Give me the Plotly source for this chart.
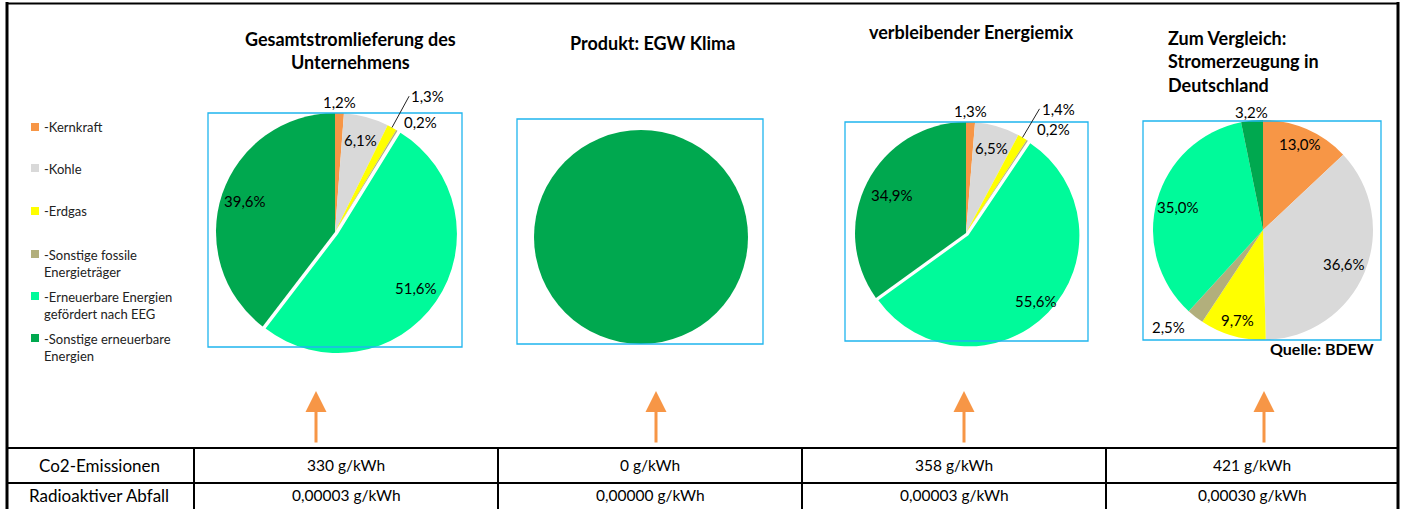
import math
import plotly.graph_objects as go

W, H = 1405, 509

# ---------------- data ----------------
categories = [
    "Kernkraft",
    "Kohle",
    "Erdgas",
    "Sonstige fossile Energieträger",
    "Erneuerbare Energien gefördert nach EEG",
    "Sonstige erneuerbare Energien",
]
legend_labels = [
    "-Kernkraft",
    "-Kohle",
    "-Erdgas",
    "-Sonstige fossile<br>Energieträger",
    "-Erneuerbare Energien<br>gefördert nach EEG",
    "-Sonstige erneuerbare<br>Energien",
]
colors = ["#F79646", "#D9D9D9", "#FFFF00", "#B2AF7C", "#00FA9A", "#00A84F"]

chart_titles = [
    "Gesamtstromlieferung des<br>Unternehmens",
    "Produkt: EGW Klima",
    "verbleibender Energiemix",
    "Zum Vergleich:<br>Stromerzeugung in<br>Deutschland",
]

gesamt = [1.2, 6.1, 1.3, 0.2, 51.6, 39.6]
egw_klima = [0, 0, 0, 0, 0, 100]
verbleibend = [1.3, 6.5, 1.4, 0.2, 55.6, 34.9]
deutschland = [13.0, 36.6, 9.7, 2.5, 35.0, 3.2]

row_labels = ["Co2-Emissionen", "Radioaktiver Abfall"]
co2 = ["330 g/kWh", "0 g/kWh", "358 g/kWh", "421 g/kWh"]
radioaktiv = ["0,00003 g/kWh", "0,00000 g/kWh", "0,00003 g/kWh", "0,00030 g/kWh"]
source_note = "Quelle: BDEW"

# ---------------- helpers (layout only) ----------------
def px(x):
    return x / W


def py(y):
    return 1 - y / H


FONT = "Lato"
BLUE = "#1FB5EE"

fig = go.Figure()
shapes = []
annotations = []

C, L, R = "center", "left", "right"
# (values, centre x, centre y, radius, pull, label radial factors, label anchors, slice with leader line, show labels)
pie_specs = [
    (gesamt, 335, 232, 119, [0, 0, 0, 0, 0.03, 0],
     [1.09, 0.8, 1.3, 1.08, 0.8, 0.8], [C, C, L, L, C, C], 2, True),
    (egw_klima, 641, 237, 107, [0] * 6, [0] * 6, [C] * 6, None, False),
    (verbleibend, 966, 233, 111, [0, 0, 0, 0, 0.03, 0],
     [1.1, 0.8, 1.3, 1.12, 0.85, 0.75], [C, C, L, L, C, C], 2, True),
    (deutschland, 1263, 230, 110, [0] * 6,
     [0.85, 0.8, 0.85, 1.12, 0.8, 1.08], [C, C, C, R, C, C], None, True),
]

for vals, cx, cy, r, pull, factors, anchors, leader, show in pie_specs:
    half = r * (1 + max(pull))
    fig.add_trace(
        go.Pie(
            labels=categories,
            values=vals,
            domain=dict(x=[px(cx - half), px(cx + half)], y=[py(cy + half), py(cy - half)]),
            sort=False,
            direction="clockwise",
            rotation=0,
            pull=pull,
            marker=dict(colors=colors, line=dict(color="white", width=0)),
            textinfo="none",
            showlegend=False,
            hovertemplate="%{label}: %{value:.1f}%<extra></extra>",
        )
    )
    if not show:
        continue
    # slice value labels placed along each slice's bisector
    total = sum(vals)
    cum = 0.0
    for i, v in enumerate(vals):
        if v <= 0:
            continue
        mid = 2 * math.pi * (cum + v / 2) / total
        cum += v
        s, c = math.sin(mid), math.cos(mid)
        ox, oy = cx + pull[i] * r * s, cy - pull[i] * r * c
        lx, ly = ox + factors[i] * r * s, oy - factors[i] * r * c
        txt = f"{v:.1f}".replace(".", ",") + "%"
        if i == leader:
            hx, hy = ox + r * s, oy - r * c
            annotations.append(dict(text=txt, x=px(hx), y=py(hy), xref="paper", yref="paper",
                                    ax=lx - hx, ay=ly - hy, axref="pixel", ayref="pixel",
                                    xanchor=anchors[i], yanchor="middle",
                                    showarrow=True, arrowhead=0, arrowwidth=1, arrowcolor="#222222",
                                    font=dict(family=FONT, size=15, color="black")))
        else:
            annotations.append(dict(text=txt, x=px(lx), y=py(ly), xref="paper", yref="paper",
                                    xanchor=anchors[i], yanchor="middle", showarrow=False,
                                    font=dict(family=FONT, size=15, color="black")))

# pie frames (light blue boxes)
for x0, y0, x1, y1 in [(208, 113, 462, 347), (517, 119, 763, 344), (845, 122, 1088, 341), (1143, 121, 1381, 340)]:
    shapes.append(dict(type="rect", xref="paper", yref="paper", x0=px(x0), x1=px(x1), y0=py(y1), y1=py(y0),
                       line=dict(color=BLUE, width=1.3)))

# titles
title_pos = [(350, 50, "center"), (652, 43, "center"), (971, 32, "center"), (1166, 62, "left")]
for t, (x, y, al) in zip(chart_titles, title_pos):
    annotations.append(dict(text=t, x=px(x), y=py(y), xref="paper", yref="paper",
                            xanchor="center" if al == "center" else "left", yanchor="middle",
                            align=al, showarrow=False,
                            font=dict(family=FONT, size=18, color="black", weight=700)))
annotations.append(dict(text=source_note, x=px(1322), y=py(348), xref="paper", yref="paper",
                        xanchor="center", yanchor="middle", showarrow=False,
                        font=dict(family=FONT, size=16, color="black", weight=700)))

# legend (swatches + text)
legend_y = [127, 168, 211, 254, 296, 338]
for lab, c, y in zip(legend_labels, colors, legend_y):
    shapes.append(dict(type="rect", xref="paper", yref="paper", x0=px(31), x1=px(39), y0=py(y + 4), y1=py(y - 4),
                       line=dict(width=0), fillcolor=c))
    annotations.append(dict(text=lab, x=px(42), y=py(y - 9.5), xref="paper", yref="paper",
                            xanchor="left", yanchor="top", align="left", showarrow=False,
                            font=dict(family=FONT, size=13, color="#222222")))

# arrows
for x in [316, 656, 964, 1264]:
    annotations.append(dict(text="", x=px(x), y=py(391), xref="paper", yref="paper",
                            ax=0, ay=53, axref="pixel", ayref="pixel",
                            showarrow=True, arrowhead=2, arrowsize=1.4, arrowwidth=3,
                            arrowcolor="#F79646"))

# outer frame
K = "black"
shapes.append(dict(type="line", xref="paper", yref="paper", x0=px(7), x1=px(7), y0=py(2), y1=py(509), line=dict(color=K, width=3)))
shapes.append(dict(type="line", xref="paper", yref="paper", x0=px(6), x1=px(1399), y0=py(3.5), y1=py(3.5), line=dict(color=K, width=2)))
shapes.append(dict(type="line", xref="paper", yref="paper", x0=px(1398), x1=px(1398), y0=py(2), y1=py(509), line=dict(color=K, width=3)))

# table lines
for y in [448, 483]:
    shapes.append(dict(type="line", xref="paper", yref="paper", x0=px(7), x1=px(1398), y0=py(y), y1=py(y), line=dict(color=K, width=2)))
col_edges = [7, 194, 498, 802, 1106, 1398]
for x in col_edges[1:-1]:
    shapes.append(dict(type="line", xref="paper", yref="paper", x0=px(x), x1=px(x), y0=py(448), y1=py(509), line=dict(color=K, width=2)))

# table text
row_y = [465, 495]
for lab, y in zip(row_labels, row_y):
    annotations.append(dict(text=lab, x=px(99), y=py(y), xref="paper", yref="paper",
                            xanchor="center", yanchor="middle", showarrow=False,
                            font=dict(family=FONT, size=17, color="black")))
for i in range(4):
    cx = (col_edges[i + 1] + col_edges[i + 2]) / 2
    for txt, y in zip([co2[i], radioaktiv[i]], row_y):
        annotations.append(dict(text=txt, x=px(cx), y=py(y), xref="paper", yref="paper",
                                xanchor="center", yanchor="middle", showarrow=False,
                                font=dict(family=FONT, size=15.5, color="black")))

fig.update_layout(
    width=W, height=H,
    margin=dict(l=0, r=0, t=0, b=0),
    paper_bgcolor="white",
    plot_bgcolor="white",
    separators=",.",
    shapes=shapes,
    annotations=annotations,
    font=dict(family=FONT),
)

fig.write_html("out.html", config={"displayModeBar": False},
               post_script="document.body.style.margin='0px';")
